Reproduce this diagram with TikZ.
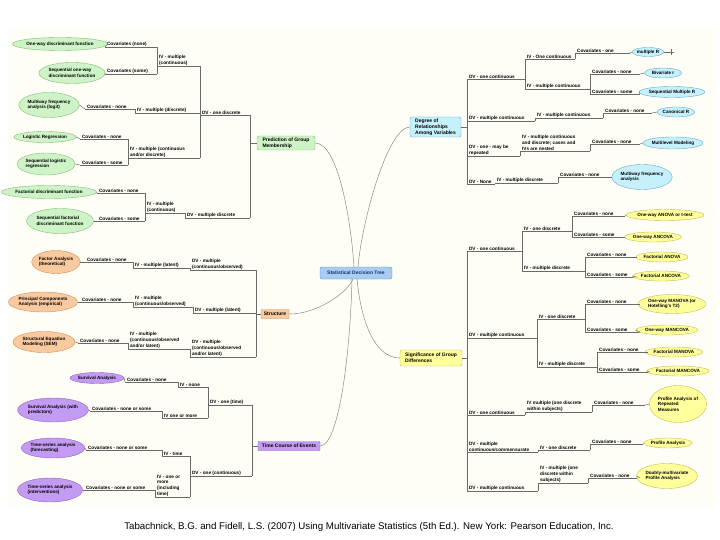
\documentclass[tikz,border=0pt]{standalone}
\usepackage{fontspec}
\setmainfont{Liberation Sans}
\usetikzlibrary{shapes.geometric}
\definecolor{bgc}{HTML}{FEFEF6}
\definecolor{lineg}{HTML}{6A6A6A}
\definecolor{curveg}{HTML}{8A8A8A}
\definecolor{gfill}{HTML}{CDF3C6}\definecolor{gdraw}{HTML}{80BF7A}
\definecolor{cfill}{HTML}{C6F0FB}\definecolor{cdraw}{HTML}{5BAFCF}
\definecolor{ofill}{HTML}{F9C9A0}\definecolor{odraw}{HTML}{D0905E}
\definecolor{yfill}{HTML}{FFFF9C}\definecolor{ydraw}{HTML}{C4BC50}
\definecolor{pfill}{HTML}{C49BF2}\definecolor{pdraw}{HTML}{8F62C6}
\definecolor{sfill}{HTML}{A9CCF3}\definecolor{sdraw}{HTML}{5F8FD0}\definecolor{stext}{HTML}{14306A}
\newcommand\Lbl[5]{%
  \coordinate (#1-l) at (#2,#4);
  \coordinate (#1-r) at (#3,#4);
  \node[lbl] (#1) at (#2+1.5,#4-0.3) {#5};
  \draw[ul] (#1-l) -- (#1-r);
}
\begin{document}
\begin{tikzpicture}[x=1pt,y=-1pt,
  lbl/.style={font=\bfseries\fontsize{4.7}{5.6}\selectfont, inner sep=0.4pt, align=left, anchor=south west},
  ul/.style={draw=lineg, line width=0.5pt},
  conn/.style={draw=lineg, line width=0.5pt},
  crv/.style={draw=curveg, line width=0.5pt},
  ebase/.style={ellipse, inner sep=0pt, line width=0.4pt, font=\bfseries\fontsize{4.6}{5.6}\selectfont, align=left},
  eg/.style={ebase, fill=gfill, draw=gdraw},
  ec/.style={ebase, fill=cfill, draw=cdraw},
  eo/.style={ebase, fill=ofill, draw=odraw},
  ey/.style={ebase, fill=yfill, draw=ydraw},
  ep/.style={ebase, fill=pfill, draw=pdraw},
  topic/.style={rectangle, rounded corners=2pt, inner sep=0pt, line width=0.4pt, font=\bfseries\fontsize{5}{6}\selectfont, align=left},
]
\useasboundingbox (0,0) rectangle (720,540);
\fill[white] (0,0) rectangle (720,540);
\fill[bgc] (8,30) rectangle (715,506);

% ---------- central and topics
\node[topic, fill=sfill, draw=sdraw, text=stext, minimum width=72, minimum height=12] (sdt) at (356,273) {Statistical Decision Tree};
\node[topic, fill=gfill, draw=gdraw, minimum width=58, minimum height=14] (pred) at (286,143) {Prediction of Group\\Membership};
\node[topic, fill=cfill, draw=cdraw, minimum width=51, minimum height=20] (degree) at (435.5,127) {Degree of\\Relationships\\Among Variables};
\node[topic, fill=ofill, draw=odraw, rounded corners=0.5pt, minimum width=28, minimum height=9] (struct) at (275,314) {Structure};
\node[topic, fill=yfill, draw=ydraw, minimum width=62, minimum height=16] (sig) at (431,358) {Significance of Group\\Differences};
\node[topic, fill=pfill, draw=pdraw, rounded corners=0.5pt, minimum width=62, minimum height=9] (time) at (289,446) {Time Course of Events};

\coordinate (sdtA) at (354,267);
\coordinate (sdtB) at (358,267);
\coordinate (sdtC) at (353,279);
\coordinate (sdtD) at (357,279);
\coordinate (sdtE) at (352,279);
\draw[crv] (pred.east) .. controls (338,143) and (351,220) .. (sdtA);
\draw[crv] (degree.west) .. controls (388,127) and (362,220) .. (sdtB);
\draw[crv] (struct.east) .. controls (318,314) and (348,292) .. (sdtC);
\draw[crv] (sig.west) .. controls (375,358) and (361,322) .. (sdtD);
\draw[crv] (time.east) .. controls (338,446) and (350,360) .. (sdtE);

% ---------- Prediction of group membership
\Lbl{lDV1}{200}{250}{115}{DV - one discrete}
\Lbl{lDV2}{185}{250}{218}{DV - multiple discrete}
\Lbl{lIV1}{157}{200}{66}{IV - multiple\\(continuous)}
\Lbl{lIV2}{135}{200}{113}{IV - multiple (discrete)}
\Lbl{lIV3}{128}{200}{158}{IV - multiple (continuous\\and/or discrete)}
\Lbl{lIV4}{145}{185}{213}{IV - multiple\\(continuous)}
\Lbl{lC1}{105}{157}{47}{Covariates (none)}
\Lbl{lC2}{105}{157}{74}{Covariates (some)}
\Lbl{lC3}{85}{135}{109}{Covariates - none}
\Lbl{lC4}{80}{128}{139}{Covariates - none}
\Lbl{lC5}{80}{128}{165}{Covariates - some}
\Lbl{lC6}{97}{145}{193}{Covariates - none}
\Lbl{lC7}{97}{145}{221}{Covariates - some}
\node[eg, minimum width=80, minimum height=13] (e1) at (60,44) {One-way discriminant function};
\node[eg, minimum width=57, minimum height=21] (e2) at (72,73) {Sequential one-way\\discriminant function};
\node[eg, minimum width=52, minimum height=25] (e3) at (49,105) {Multiway frequency\\analysis (logit)};
\node[eg, minimum width=57, minimum height=11] (e4) at (45,137) {Logistic Regression};
\node[eg, minimum width=58, minimum height=22] (e5) at (46,164) {Sequential logistic\\regression};
\node[eg, minimum width=85, minimum height=13] (e6) at (49,192) {Factorial discriminant function};
\node[eg, minimum width=67, minimum height=25] (e7) at (60,221) {Sequential factorial\\discriminant function};
\draw[conn] (lDV1-r) |- (pred.west);
\draw[conn] (lDV2-r) |- (pred.west);
\draw[conn] (lIV1-r) -| (lDV1-l);
\draw[conn] (lIV2-r) -| (lDV1-l);
\draw[conn] (lIV3-r) -| (lDV1-l);
\draw[conn] (lIV4-r) -| (lDV2-l);
\draw[conn] (lC1-r) -| (lIV1-l);
\draw[conn] (lC2-r) -| (lIV1-l);
\draw[conn] (lC3-r) -| (lIV2-l);
\draw[conn] (lC4-r) -| (lIV3-l);
\draw[conn] (lC5-r) -| (lIV3-l);
\draw[conn] (lC6-r) -| (lIV4-l);
\draw[conn] (lC7-r) -| (lIV4-l);
\draw[conn] (e1.east) -- (lC1-l);
\draw[conn] (e2.east) -- (lC2-l);
\draw[conn] (e3.east) -- (lC3-l);
\draw[conn] (e4.east) -- (lC4-l);
\draw[conn] (e5.east) -- (lC5-l);
\draw[conn] (e6.east) -- (lC6-l);
\draw[conn] (e7.east) -- (lC7-l);

% ---------- Structure
\Lbl{lDV3}{190}{256}{270}{DV - multiple\\(continuous/observed)}
\Lbl{lDV4}{193}{256}{313}{DV - multiple (latent)}
\Lbl{lDV5}{190}{256}{357}{DV - multiple\\(continuous/observed\\and/or latent)}
\Lbl{lIV5}{133}{190}{268}{IV - multiple (latent)}
\Lbl{lIV6}{133}{193}{307}{IV - multiple\\(continuous/observed)}
\Lbl{lIV7}{128}{190}{349}{IV - multiple\\(continuous/observed\\and/or latent)}
\Lbl{lC8}{85}{133}{262}{Covariates - none}
\Lbl{lC9}{80}{133}{302}{Covariates - none}
\Lbl{lC10}{78}{128}{343}{Covariates - none}
\node[eo, minimum width=48, minimum height=23] (e8) at (56,262) {Factor Analysis\\(theoretical)};
\node[eo, minimum width=63, minimum height=20] (e9) at (43,302) {Principal Components\\Analysis (empirical)};
\node[eo, minimum width=62, minimum height=21] (e10) at (44,342) {Structural Equation\\Modeling (SEM)};
\draw[conn] (lDV3-r) |- (struct.west);
\draw[conn] (lDV4-r) |- (struct.west);
\draw[conn] (lDV5-r) |- (struct.west);
\draw[conn] (lIV5-r) -| (lDV3-l);
\draw[conn] (lIV6-r) -| (lDV4-l);
\draw[conn] (lIV7-r) -| (lDV5-l);
\draw[conn] (lC8-r) -| (lIV5-l);
\draw[conn] (lC9-r) -| (lIV6-l);
\draw[conn] (lC10-r) -| (lIV7-l);
\draw[conn] (e8.east) -- (lC8-l);
\draw[conn] (e9.east) -- (lC9-l);
\draw[conn] (e10.east) -- (lC10-l);

% ---------- Time course
\Lbl{lDV6}{208}{252}{405}{DV - one (time)}
\Lbl{lDV7}{190}{252}{476}{DV - one (continuous)}
\Lbl{lIV8}{178}{208}{387}{IV - none}
\Lbl{lIV9}{162}{208}{418}{IV one or more}
\Lbl{lIV10}{162}{190}{456}{IV - time}
\Lbl{lIV11}{155}{190}{497}{IV - one or\\more\\(including\\time)}
\Lbl{lC11}{125}{178}{382}{Covariates - none}
\Lbl{lC12}{90}{162}{411}{Covariates - none or some}
\Lbl{lC13}{86}{162}{450}{Covariates - none or some}
\Lbl{lC14}{84}{155}{490}{Covariates - none or some}
\node[ep, minimum width=50, minimum height=11] (e11) at (97,378) {Survival Analysis};
\node[ep, minimum width=70, minimum height=24] (e12) at (53,410) {Survival Analysis (with\\predictors)};
\node[ep, minimum width=60, minimum height=20] (e13) at (53,448) {Time-series analysis\\(forecasting)};
\node[ep, minimum width=65, minimum height=24] (e14) at (50,490) {Time-series analysis\\(interventions)};
\draw[conn] (lDV6-r) |- (time.west);
\draw[conn] (lDV7-r) |- (time.west);
\draw[conn] (lIV8-r) -| (lDV6-l);
\draw[conn] (lIV9-r) -| (lDV6-l);
\draw[conn] (lIV10-r) -| (lDV7-l);
\draw[conn] (lIV11-r) -| (lDV7-l);
\draw[conn] (lC11-r) -| (lIV8-l);
\draw[conn] (lC12-r) -| (lIV9-l);
\draw[conn] (lC13-r) -| (lIV10-l);
\draw[conn] (lC14-r) -| (lIV11-l);
\draw[conn] (e11.east) -- (lC11-l);
\draw[conn] (e12.east) -- (lC12-l);
\draw[conn] (e13.east) -- (lC13-l);
\draw[conn] (e14.east) -- (lC14-l);

% ---------- Degree of relationships
\Lbl{rDV1}{467}{525}{79}{DV - one continuous}
\Lbl{rDV2}{467}{535}{121}{DV - multiple continuous}
\Lbl{rDV3}{467}{520}{156}{DV - one - may be\\repeated}
\Lbl{rDV4}{467}{495}{184}{DV - None}
\Lbl{rIV1}{525}{575}{59}{IV - One continuous}
\Lbl{rIV2}{525}{590}{89}{IV - multiple continuous}
\Lbl{rIV3}{535}{603}{118}{IV - multiple continuous}
\Lbl{rIV4}{520}{590}{151}{IV - multiple continuous\\and discrete; cases and\\IVs are nested}
\Lbl{rIV5}{495}{558}{183}{IV - multiple discrete}
\Lbl{rC1}{575}{630}{53}{Covariates - one}
\Lbl{rC2}{590}{640}{74}{Covariates - none}
\Lbl{rC3}{590}{640}{94}{Covariates - some}
\Lbl{rC4}{603}{652}{113}{Covariates - none}
\Lbl{rC5}{590}{640}{144}{Covariates - none}
\Lbl{rC6}{558}{607}{177}{Covariates - none}
\node[ec, minimum width=32, minimum height=9] (eMR) at (648,52) {multiple R};
\node[ec, minimum width=37, minimum height=10] (eBR) at (663,73) {Bivariate r};
\node[ec, minimum width=58, minimum height=11] (eSMR) at (672,92) {Sequential Multiple R};
\node[ec, minimum width=37, minimum height=10] (eCR) at (676,112) {Canonical R};
\node[ec, minimum width=60, minimum height=12] (eML) at (673,143) {Multilevel Modeling};
\node[ec, minimum width=58, minimum height=25] (eMF) at (642,177) {Multiway frequency\\analysis};
\coordinate (plus) at (671,52);
\draw[conn] (eMR.east) -- ([xshift=3pt]plus);
\draw[conn] ([yshift=-3pt]plus) -- ([yshift=3pt]plus);
\draw[conn] (rDV1-l) |- (degree.east);
\draw[conn] (rDV2-l) |- (degree.east);
\draw[conn] (rDV3-l) |- (degree.east);
\draw[conn] (rDV4-l) |- (degree.east);
\draw[conn] (rIV1-l) -| (rDV1-r);
\draw[conn] (rIV2-l) -| (rDV1-r);
\draw[conn] (rIV3-l) -| (rDV2-r);
\draw[conn] (rIV4-l) -| (rDV3-r);
\draw[conn] (rIV5-l) -| (rDV4-r);
\draw[conn] (rC1-l) -| (rIV1-r);
\draw[conn] (rC2-l) -| (rIV2-r);
\draw[conn] (rC3-l) -| (rIV2-r);
\draw[conn] (rC4-l) -| (rIV3-r);
\draw[conn] (rC5-l) -| (rIV4-r);
\draw[conn] (rC6-l) -| (rIV5-r);
\draw[conn] (rC1-r) -- (eMR.west);
\draw[conn] (rC2-r) -- (eBR.west);
\draw[conn] (rC3-r) -- (eSMR.west);
\draw[conn] (rC4-r) -- (eCR.west);
\draw[conn] (rC5-r) -- (eML.west);
\draw[conn] (rC6-r) -- (eMF.west);

% ---------- Significance of group differences
\Lbl{rDV5}{467}{522}{251}{DV - one continuous}
\Lbl{rDV6}{467}{537}{338}{DV - multiple continuous}
\Lbl{rDV7}{467}{525}{415}{DV - one continuous}
\Lbl{rDV8}{467}{538}{452}{DV - multiple\\continuous/commensurate}
\Lbl{rDV9}{467}{538}{491}{DV - multiple continuous}
\Lbl{rIV6}{522}{572}{231}{IV - one discrete}
\Lbl{rIV7}{522}{585}{271}{IV - multiple discrete}
\Lbl{rIV8}{537}{585}{319}{IV - one discrete}
\Lbl{rIV9}{537}{597}{367}{IV - multiple discrete}
\Lbl{rIV10}{525}{592}{412}{IV multiple (one discrete\\within subjects)}
\Lbl{rIV11}{538}{590}{450}{IV - one discrete}
\Lbl{rIV12}{538}{588}{483}{IV - multiple (one\\discrete within\\subjects)}
\Lbl{rC7}{572}{625}{216}{Covariates - none}
\Lbl{rC8}{572}{625}{237}{Covariates - some}
\Lbl{rC9}{585}{637}{257}{Covariates - none}
\Lbl{rC10}{585}{637}{277}{Covariates - some}
\Lbl{rC11}{585}{640}{304}{Covariates - none}
\Lbl{rC12}{585}{640}{332}{Covariates - some}
\Lbl{rC13}{597}{648}{352}{Covariates - none}
\Lbl{rC14}{597}{650}{372}{Covariates - some}
\Lbl{rC15}{592}{645}{405}{Covariates - none}
\Lbl{rC16}{590}{643}{444}{Covariates - none}
\Lbl{rC17}{588}{640}{478}{Covariates - none}
\node[ey, minimum width=70, minimum height=11] (y1) at (665,215) {One-way ANOVA or t-test};
\node[ey, minimum width=43, minimum height=10] (y2) at (653,237) {One-way ANCOVA};
\node[ey, minimum width=40, minimum height=10] (y3) at (662,257) {Factorial ANOVA};
\node[ey, minimum width=42, minimum height=10] (y4) at (661,276) {Factorial ANCOVA};
\node[ey, minimum width=61, minimum height=19] (y5) at (672,304) {One-way MANOVA (or\\Hotelling's T2)};
\node[ey, minimum width=50, minimum height=10] (y6) at (667,330) {One-way MANCOVA};
\node[ey, minimum width=45, minimum height=10] (y7) at (674,352) {Factorial MANOVA};
\node[ey, minimum width=50, minimum height=10] (y8) at (678,371) {Factorial MANCOVA};
\node[ey, minimum width=57, minimum height=37] (y9) at (678,404) {Profile Analysis of\\Repeated\\Measures};
\node[ey, minimum width=47, minimum height=10] (y10) at (668,443) {Profile Analysis};
\node[ey, minimum width=50, minimum height=25] (y11) at (667,476) {Doubly-multivariate\\Profile Analysis};
\draw[conn] (rDV5-l) |- (sig.east);
\draw[conn] (rDV6-l) |- (sig.east);
\draw[conn] (rDV7-l) |- (sig.east);
\draw[conn] (rDV8-l) |- (sig.east);
\draw[conn] (rDV9-l) |- (sig.east);
\draw[conn] (rIV6-l) -| (rDV5-r);
\draw[conn] (rIV7-l) -| (rDV5-r);
\draw[conn] (rIV8-l) -| (rDV6-r);
\draw[conn] (rIV9-l) -| (rDV6-r);
\draw[conn] (rIV10-l) -| (rDV7-r);
\draw[conn] (rIV11-l) -| (rDV8-r);
\draw[conn] (rIV12-l) -| (rDV9-r);
\draw[conn] (rC7-l) -| (rIV6-r);
\draw[conn] (rC8-l) -| (rIV6-r);
\draw[conn] (rC9-l) -| (rIV7-r);
\draw[conn] (rC10-l) -| (rIV7-r);
\draw[conn] (rC11-l) -| (rIV8-r);
\draw[conn] (rC12-l) -| (rIV8-r);
\draw[conn] (rC13-l) -| (rIV9-r);
\draw[conn] (rC14-l) -| (rIV9-r);
\draw[conn] (rC15-l) -| (rIV10-r);
\draw[conn] (rC16-l) -| (rIV11-r);
\draw[conn] (rC17-l) -| (rIV12-r);
\draw[conn] (rC7-r) -- (y1.west);
\draw[conn] (rC8-r) -- (y2.west);
\draw[conn] (rC9-r) -- (y3.west);
\draw[conn] (rC10-r) -- (y4.west);
\draw[conn] (rC11-r) -- (y5.west);
\draw[conn] (rC12-r) -- (y6.west);
\draw[conn] (rC13-r) -- (y7.west);
\draw[conn] (rC14-r) -- (y8.west);
\draw[conn] (rC15-r) -- (y9.west);
\draw[conn] (rC16-r) -- (y10.west);
\draw[conn] (rC17-r) -- (y11.west);

% ---------- caption
\node[font=\fontsize{9.7}{11}\selectfont, inner sep=0pt] (cap) at (369,527) {Tabachnick, B.G. and Fidell, L.S. (2007) Using Multivariate Statistics (5th Ed.). New York: Pearson Education, Inc.};
\end{tikzpicture}
\end{document}
